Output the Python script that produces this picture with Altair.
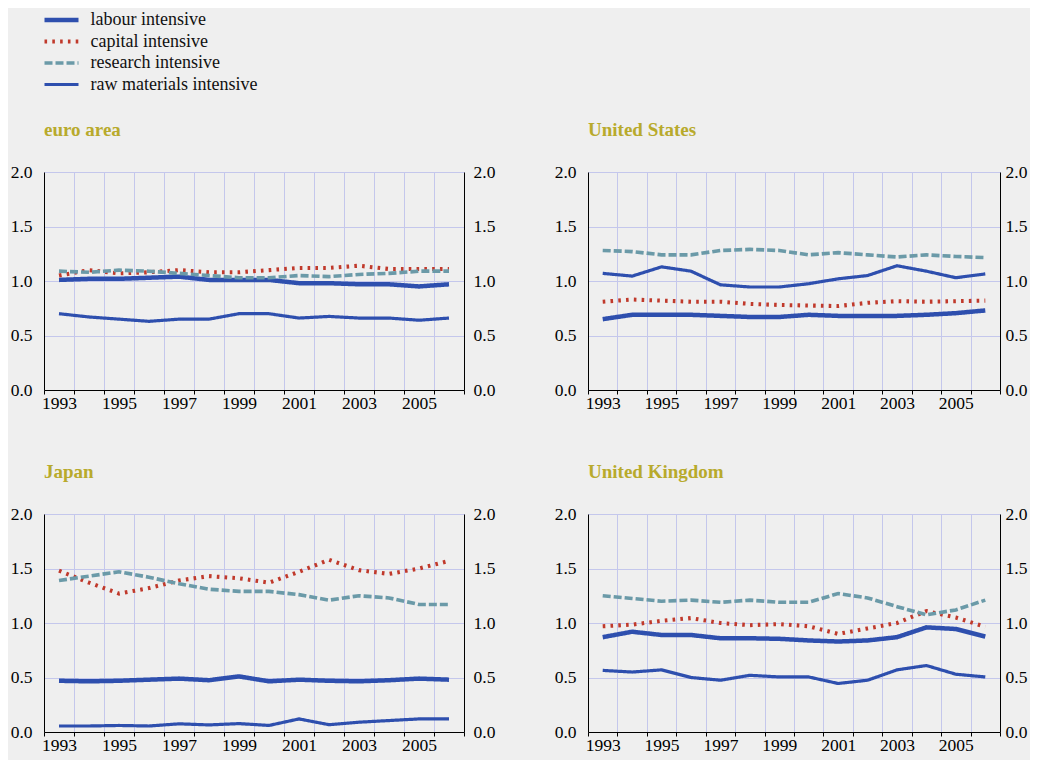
import altair as alt
import pandas as pd

years = list(range(1993, 2007))
series = ["labour intensive", "capital intensive", "research intensive", "raw materials intensive"]
regions = ["euro area", "United States", "Japan", "United Kingdom"]

euro_labour   = [1.01, 1.02, 1.02, 1.03, 1.04, 1.01, 1.01, 1.01, 0.98, 0.98, 0.97, 0.97, 0.95, 0.97]
euro_capital  = [1.05, 1.10, 1.07, 1.08, 1.10, 1.08, 1.08, 1.10, 1.12, 1.12, 1.14, 1.11, 1.11, 1.11]
euro_research = [1.09, 1.08, 1.10, 1.09, 1.07, 1.05, 1.03, 1.03, 1.05, 1.04, 1.06, 1.07, 1.09, 1.09]
euro_raw      = [0.70, 0.67, 0.65, 0.63, 0.65, 0.65, 0.70, 0.70, 0.66, 0.675, 0.66, 0.66, 0.64, 0.66]

us_labour   = [0.65, 0.69, 0.69, 0.69, 0.68, 0.67, 0.67, 0.69, 0.68, 0.68, 0.68, 0.69, 0.705, 0.73]
us_capital  = [0.81, 0.83, 0.82, 0.81, 0.81, 0.79, 0.78, 0.775, 0.77, 0.80, 0.815, 0.81, 0.815, 0.82]
us_research = [1.28, 1.27, 1.24, 1.24, 1.28, 1.29, 1.28, 1.24, 1.26, 1.24, 1.22, 1.24, 1.225, 1.215]
us_raw      = [1.07, 1.045, 1.13, 1.09, 0.965, 0.945, 0.945, 0.975, 1.02, 1.05, 1.14, 1.09, 1.03, 1.065]

jp_labour   = [0.47, 0.465, 0.47, 0.48, 0.49, 0.475, 0.51, 0.465, 0.48, 0.47, 0.465, 0.475, 0.49, 0.48]
jp_capital  = [1.48, 1.37, 1.27, 1.32, 1.39, 1.43, 1.41, 1.37, 1.47, 1.58, 1.485, 1.45, 1.50, 1.57]
jp_research = [1.39, 1.43, 1.47, 1.42, 1.36, 1.31, 1.29, 1.29, 1.26, 1.21, 1.25, 1.23, 1.17, 1.17]
jp_raw      = [0.055, 0.055, 0.06, 0.055, 0.075, 0.065, 0.077, 0.06, 0.12, 0.067, 0.09, 0.105, 0.12, 0.12]

uk_labour   = [0.87, 0.92, 0.89, 0.89, 0.86, 0.86, 0.855, 0.84, 0.83, 0.84, 0.87, 0.96, 0.945, 0.875]
uk_capital  = [0.97, 0.985, 1.02, 1.045, 1.00, 0.98, 0.99, 0.97, 0.90, 0.95, 1.00, 1.11, 1.05, 0.965]
uk_research = [1.25, 1.225, 1.20, 1.21, 1.19, 1.21, 1.19, 1.19, 1.27, 1.23, 1.15, 1.075, 1.12, 1.21]
uk_raw      = [0.565, 0.55, 0.57, 0.50, 0.475, 0.52, 0.505, 0.505, 0.445, 0.475, 0.57, 0.61, 0.53, 0.505]

table = {
    "euro area": [euro_labour, euro_capital, euro_research, euro_raw],
    "United States": [us_labour, us_capital, us_research, us_raw],
    "Japan": [jp_labour, jp_capital, jp_research, jp_raw],
    "United Kingdom": [uk_labour, uk_capital, uk_research, uk_raw],
}

rows = []
for reg in regions:
    for s, vals in zip(series, table[reg]):
        for y, v in zip(years, vals):
            rows.append({"region": reg, "series": s, "year": y, "value": v})
df = pd.DataFrame(rows)

FONT = "Liberation Serif"
GRID = "#c4c7ec"
AXFS = 17.5
boundaries = [y + 0.5 for y in range(1992, 2007)]
yticks = [0, 0.5, 1.0, 1.5, 2.0]

color_scale = alt.Scale(domain=series, range=["#2e4fae", "#c0392b", "#6b9aa8", "#2e4fae"])
dash_scale = alt.Scale(domain=series, range=[[1, 0], [2.6, 5.2], [8, 3], [1, 0]])
width_scale = alt.Scale(domain=series, range=[4.5, 3.2, 4, 2])

legend = alt.Legend(
    title=None, orient="none", legendX=-2, legendY=-160,
    symbolType="stroke", symbolSize=1156, clipHeight=16,
    labelFont=FONT, labelFontSize=18, labelColor="#111111", labelLimit=400,
    labelOffset=9.5, rowPadding=3.5, padding=0,
)

x_scale = alt.Scale(domain=[1992.5, 2006.5], nice=False, zero=False)


def panel(reg, width, right_pad):
    x_axis = alt.Axis(
        values=boundaries, title=None, grid=True, gridColor=GRID, gridWidth=1,
        domainColor="black", tickColor="black", tickSize=4,
        labelExpr="(floor(datum.value) % 2 == 1) ? floor(datum.value) + '' : ''",
        labelOffset=-width / 28, labelFont=FONT, labelFontSize=AXFS, labelColor="black",
        labelPadding=0, labelFlush=False, labelOverlap=False,
    )
    base = alt.Chart(df).transform_filter(alt.datum.region == reg)
    lines = base.mark_line(strokeCap="butt").encode(
        x=alt.X("year:Q", scale=x_scale, axis=x_axis),
        y=alt.Y(
            "value:Q",
            scale=alt.Scale(domain=[0, 2], nice=False),
            axis=alt.Axis(
                values=yticks, format=".1f", title=None, grid=True, gridColor=GRID,
                domainColor="black", ticks=False, tickSize=0, labelPadding=12,
                labelFont=FONT, labelFontSize=AXFS, labelColor="black",
            ),
        ),
        color=alt.Color("series:N", scale=color_scale, legend=legend),
        strokeDash=alt.StrokeDash("series:N", scale=dash_scale, legend=legend),
        strokeWidth=alt.StrokeWidth("series:N", scale=width_scale, legend=legend),
        detail="series:N",
    )
    right = base.mark_line(strokeOpacity=0).encode(
        x=alt.X("year:Q", scale=x_scale, axis=x_axis),
        y=alt.Y(
            "value:Q",
            scale=alt.Scale(domain=[0, 2], nice=False),
            axis=alt.Axis(
                orient="right", values=yticks, format=".1f", title=None, grid=False,
                domainColor="black", ticks=False, tickSize=0, labelPadding=right_pad,
                labelFont=FONT, labelFontSize=AXFS, labelColor="black",
            ),
        ),
        detail="series:N",
    )
    return alt.layer(lines, right).resolve_scale(y="independent").properties(
        width=width, height=218,
        title=alt.TitleParams(
            reg, anchor="start", frame="group", font=FONT, fontSize=19,
            fontWeight="bold", color="#b8aa2c", offset=23,
        ),
    )


panels = [
    panel("euro area", 420, 9),
    panel("United States", 412, 5),
    panel("Japan", 420, 9),
    panel("United Kingdom", 412, 5),
]

chart = alt.concat(*panels, columns=2, spacing=124, bounds="flush").properties(
    autosize=alt.AutoSizeParams(type="none"),
    padding={"left": 36, "top": 164, "right": 986, "bottom": 588},
    background="#efefef",
).configure_view(stroke=None).configure_axis(domainWidth=1)

chart.save("out.html", embed_options={"renderer": "svg", "actions": False})
